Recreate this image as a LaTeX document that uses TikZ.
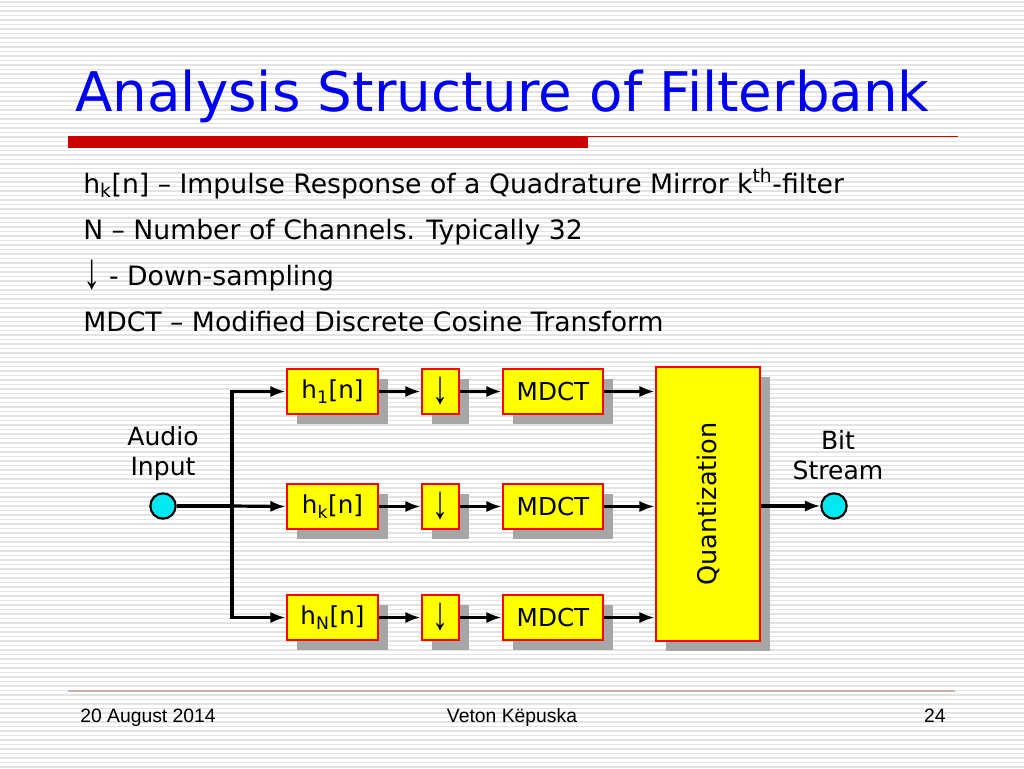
\documentclass[tikz,border=0pt]{standalone}
\usepackage{fontspec}
\usepackage{graphicx}
\setmainfont{DejaVu Sans}
\newfontfamily\footfont{Liberation Sans}
\usetikzlibrary{arrows.meta,positioning}
\definecolor{titleblue}{HTML}{0000F0}
\definecolor{barred}{HTML}{CC0000}
\definecolor{boxred}{HTML}{FF0000}
\definecolor{boxyellow}{HTML}{FFFF00}
\definecolor{shadowgray}{HTML}{A6A6A6}
\definecolor{incyan}{HTML}{00E8F0}
\definecolor{bgline}{HTML}{E3E3E3}
\definecolor{footline}{HTML}{C8B0B0}
\newcommand{\darr}{\raisebox{-0.12em}{\scalebox{1.3}[1.9]{\footfont ↓}}}
\tikzset{
  blk/.style={draw=boxred, line width=2pt, fill=boxyellow, inner sep=0pt,
    font=\fontsize{18.5pt}{22pt}\selectfont},
  conn/.style={line width=2.4pt, -{Latex[length=11.5pt,width=8.5pt]}},
  wire/.style={line width=2.4pt},
  port/.style={circle, draw=black, line width=1.6pt, fill=incyan, minimum size=19pt, inner sep=0pt},
  bullettext/.style={anchor=base west, inner sep=0pt, font=\fontsize{20pt}{24pt}\selectfont},
  lbl/.style={align=center, inner sep=0pt, font=\fontsize{18.8pt}{22.5pt}\selectfont},
  foottext/.style={inner sep=0pt, anchor=base, font=\footfont\fontsize{14.5pt}{17pt}\selectfont}
}
\begin{document}
\begin{tikzpicture}[x=0.75pt,y=-0.75pt]
\useasboundingbox (0,0) rectangle (1024,768);
\fill[white] (0,0) rectangle (1024,768);
% background ruled lines
\foreach \yy in {2,6.5,...,768} {\draw[bgline, line width=1pt] (0,\yy) -- (1024,\yy);}
% title
\node[anchor=base west, inner sep=0pt, text=titleblue, font=\fontsize{41pt}{48pt}\selectfont] (title) at (75,111) {Analysis Structure of Filterbank};
\fill[barred] (68,136) rectangle (588,148);
\draw[barred, line width=0.9pt] (588,136.5) -- (958,136.5);
% bullets
\node[bullettext] (b1) at (83,193) {h\textsubscript{k}[n] – Impulse Response of a Quadrature Mirror k\textsuperscript{th}-filter};
\node[bullettext] (b2) at (83,239) {N – Number of Channels. Typically 32};
\node[bullettext] (b3) at (83,285) {\darr{} - Down-sampling};
\node[bullettext] (b4) at (83,331) {MDCT – Modified Discrete Cosine Transform};
% shadows
\foreach \x/\w in {287/91,422/37,503/100}{
  \foreach \y in {369,484,595}{
    \fill[shadowgray] (\x+10,\y+10) rectangle (\x+\w+10,\y+45+10);
  }
}
\fill[shadowgray] (666,377) rectangle (770,651);
% blocks row 1
\node[blk, minimum width=68.25pt, minimum height=33.75pt] (h1) at (332.5,391.5) {h\textsubscript{1}[n]};
\node[blk, minimum width=27.75pt, minimum height=33.75pt] (d1) at (440.5,391.5) {\darr};
\node[blk, minimum width=75pt, minimum height=33.75pt] (m1) at (553,391.5) {MDCT};
% row 2
\node[blk, minimum width=68.25pt, minimum height=33.75pt] (hk) at (332.5,506.5) {h\textsubscript{k}[n]};
\node[blk, minimum width=27.75pt, minimum height=33.75pt] (dk) at (440.5,506.5) {\darr};
\node[blk, minimum width=75pt, minimum height=33.75pt] (mk) at (553,506.5) {MDCT};
% row 3
\node[blk, minimum width=68.25pt, minimum height=33.75pt] (hN) at (332.5,617.5) {h\textsubscript{N}[n]};
\node[blk, minimum width=27.75pt, minimum height=33.75pt] (dN) at (440.5,617.5) {\darr};
\node[blk, minimum width=75pt, minimum height=33.75pt] (mN) at (553,617.5) {MDCT};
% quantization
\node[blk, minimum width=78pt, minimum height=205.5pt] (q) at (708,504) {};
\node[rotate=90, inner sep=0pt, font=\fontsize{19.2pt}{22pt}\selectfont] (qt) at (q.center) {Quantization};
% ports
\node[port] (in) at (163,506) {};
\node[port] (out) at (834,506) {};
\node[lbl, anchor=south] (inl) at (163,481) {Audio\\Input};
\node[lbl, anchor=south] (outl) at (838,480) {Bit\\Stream};
% split
\coordinate (split) at (232,506);
\coordinate (st) at (232,391.5);
\coordinate (sb) at (232,617.5);
\draw[wire] (in.east) -- (split);
\draw[wire, line cap=rect] (st) -- (sb);
\draw[conn] (split) -- (hk.west);
\draw[conn] (st) -- (h1.west);
\draw[conn] (sb) -- (hN.west);
% connectors
\draw[conn] (h1) -- (d1);
\draw[conn] (d1) -- (m1);
\draw[conn] (m1.east) -- (m1.east -| q.west);
\draw[conn] (hk) -- (dk);
\draw[conn] (dk) -- (mk);
\draw[conn] (mk.east) -- (mk.east -| q.west);
\draw[conn] (hN) -- (dN);
\draw[conn] (dN) -- (mN);
\draw[conn] (mN.east) -- (mN.east -| q.west);
\draw[conn] (q.east |- out) -- (out.west);
% footer
\draw[footline, line width=0.8pt] (68,691) -- (955,691);
\node[foottext, anchor=base west] (f1) at (80,722) {20 August 2014};
\node[foottext] (f2) at (512,722) {Veton Këpuska};
\node[foottext, anchor=base east] (f3) at (946,722) {24};
\end{tikzpicture}
\end{document}
